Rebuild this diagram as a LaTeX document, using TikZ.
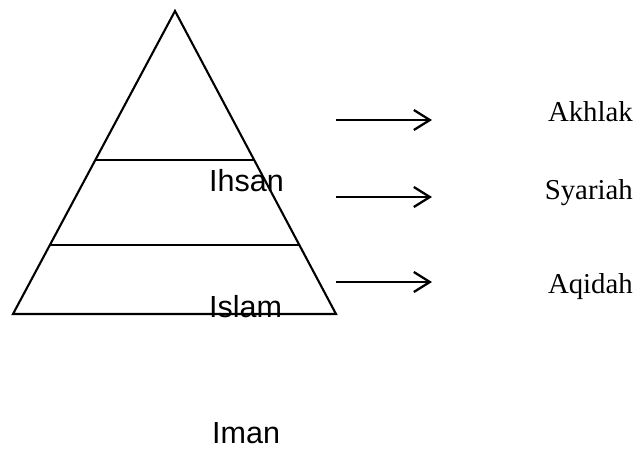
\documentclass[tikz,border=0pt]{standalone}
\usepackage{fontspec}
\setmainfont{Liberation Serif}
\newfontfamily\arialfont{Liberation Sans}
\usetikzlibrary{arrows.meta,calc}
\begin{document}
\begin{tikzpicture}[x=1pt,y=-1pt,
  shape line/.style={line width=2.1pt, line join=miter},
  pointer/.style={line width=2.3pt, -{Straight Barb[length=16pt,width=20pt,line width=2.3pt]}},
  levellabel/.style={inner sep=0pt, anchor=base west, font=\arialfont\fontsize{30.5}{36}\selectfont},
  sidelabel/.style={inner sep=0pt, anchor=base east, font=\fontsize{28.8}{34}\selectfont}]
\useasboundingbox (0,0) rectangle (638,448);
% pyramid
\coordinate (apex) at (175,11);
\coordinate (bl) at (13,314);
\coordinate (br) at (336,314);
\draw[shape line] (apex) -- (br) -- (bl) -- cycle;
\draw[shape line, line width=1.7pt] ($(apex)!0.4917!(bl)$) -- ($(apex)!0.4917!(br)$);
\draw[shape line, line width=1.7pt] ($(apex)!0.7723!(bl)$) -- ($(apex)!0.7723!(br)$);
% level labels
\node[levellabel] (ihsan) at (209,191.5) {Ihsan};
\node[levellabel] (islam) at (209,317) {Islam};
\node[levellabel] (iman) at (212,443) {Iman};
% arrows
\coordinate (a1s) at (336,120); \coordinate (a1e) at (432,120);
\coordinate (a2s) at (336,197); \coordinate (a2e) at (432,197);
\coordinate (a3s) at (336,282); \coordinate (a3e) at (432,282);
\draw[pointer] (a1s) -- (a1e);
\draw[pointer] (a2s) -- (a2e);
\draw[pointer] (a3s) -- (a3e);
% side labels
\node[sidelabel] (akhlak) at (633,121.5) {Akhlak};
\node[sidelabel] (syariah) at (633,199) {Syariah};
\node[sidelabel] (aqidah) at (633,293) {Aqidah};
\end{tikzpicture}
\end{document}
